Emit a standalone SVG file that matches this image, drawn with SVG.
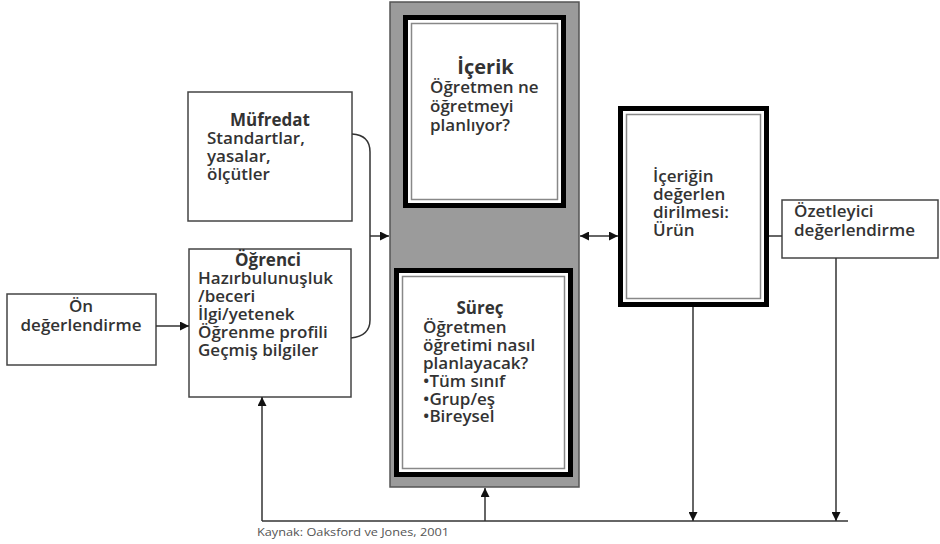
<svg xmlns="http://www.w3.org/2000/svg" width="940" height="544" viewBox="0 0 940 544">
<defs>
<marker id="ah" viewBox="0 0 10 10" refX="10" refY="5" markerWidth="9" markerHeight="9" markerUnits="userSpaceOnUse" orient="auto-start-reverse">
<path d="M0,0 L10,5 L0,10 z" fill="#111"/>
</marker>
<style>
text{font-family:"Open Sans","Liberation Sans",sans-serif;font-size:17px;fill:#333;font-weight:600}
.t{font-weight:700}
.big{font-size:20px;font-weight:700}
.box{fill:#fff;stroke:#444;stroke-width:1.5}
.thick{fill:#fff;stroke:#000;stroke-width:5}
.thin{fill:none;stroke:#888;stroke-width:1.5}
.c{fill:none;stroke:#333;stroke-width:1.5}
.src{font-size:10.5px;font-weight:400;fill:#555}
</style>
</defs>
<rect width="940" height="544" fill="#fff"/>

<g id="center">
<rect x="390" y="2" width="189" height="485" fill="#9b9b9b" stroke="#555" stroke-width="1.5"/>
</g>

<g id="icerik">
<rect class="thick" x="405.5" y="17.5" width="158" height="188"/>
<rect class="thin" x="411.5" y="23.5" width="146" height="176"/>
<text class="big" x="485.5" y="74" text-anchor="middle">İçerik</text>
<text x="430" y="93">Öğretmen ne</text>
<text x="430" y="112">öğretmeyi</text>
<text x="430" y="131">planlıyor?</text>
</g>

<g id="surec">
<rect class="thick" x="396.5" y="270.5" width="174" height="204"/>
<rect class="thin" x="402.5" y="276.5" width="162" height="192"/>
<text class="t" x="480" y="314" text-anchor="middle">Süreç</text>
<text x="423" y="333">Öğretmen</text>
<text x="423" y="351">öğretimi nasıl</text>
<text x="423" y="369">planlayacak?</text>
<text x="423" y="387">•Tüm sınıf</text>
<text x="423" y="405">•Grup/eş</text>
<text x="423" y="422">•Bireysel</text>
</g>

<g id="mufredat">
<rect class="box" x="188" y="92" width="164" height="129"/>
<text class="t" x="270" y="126" text-anchor="middle">Müfredat</text>
<text x="207" y="144">Standartlar,</text>
<text x="207" y="162">yasalar,</text>
<text x="207" y="180">ölçütler</text>
</g>

<g id="ogrenci">
<rect class="box" x="189" y="249" width="162" height="148"/>
<text class="t" x="268" y="266" text-anchor="middle">Öğrenci</text>
<text x="198" y="284">Hazırbulunuşluk</text>
<text x="198" y="302">/beceri</text>
<text x="198" y="320">İlgi/yetenek</text>
<text x="198" y="338">Öğrenme profili</text>
<text x="198" y="356">Geçmiş bilgiler</text>
</g>

<g id="on">
<rect class="box" x="7" y="294" width="149" height="71"/>
<text x="81" y="312" text-anchor="middle">Ön</text>
<text x="81" y="331" text-anchor="middle">değerlendirme</text>
</g>

<g id="urun">
<rect class="thick" x="620.5" y="108.5" width="146" height="196"/>
<rect class="thin" x="626.5" y="114.5" width="134" height="184"/>
<text x="653" y="182">İçeriğin</text>
<text x="653" y="200">değerlen</text>
<text x="653" y="218">dirilmesi:</text>
<text x="653" y="236">Ürün</text>
</g>

<g id="ozet">
<rect class="box" x="782" y="200" width="156" height="58"/>
<text x="794" y="217">Özetleyici</text>
<text x="794" y="236">değerlendirme</text>
</g>

<g id="connectors">
<path class="c" d="M352,134 Q370,135 370,152 L370,320 Q370,336 351,338"/>
<line class="c" x1="370" y1="236" x2="389" y2="236" marker-end="url(#ah)"/>
<line class="c" x1="156" y1="326" x2="189" y2="326" marker-end="url(#ah)"/>
<line class="c" x1="580" y1="236" x2="618" y2="236" marker-start="url(#ah)" marker-end="url(#ah)"/>
<line class="c" x1="769" y1="236" x2="782" y2="236"/>
<line class="c" x1="262" y1="521" x2="848" y2="521"/>
<line class="c" x1="262" y1="521" x2="262" y2="397" marker-end="url(#ah)"/>
<line class="c" x1="485" y1="521" x2="485" y2="488" marker-end="url(#ah)"/>
<line class="c" x1="693" y1="307" x2="693" y2="521" marker-end="url(#ah)"/>
<line class="c" x1="836" y1="258" x2="836" y2="521" marker-end="url(#ah)"/>
</g>

<text class="src" x="257" y="536" textLength="192" lengthAdjust="spacingAndGlyphs">Kaynak: Oaksford ve Jones, 2001</text>
</svg>
